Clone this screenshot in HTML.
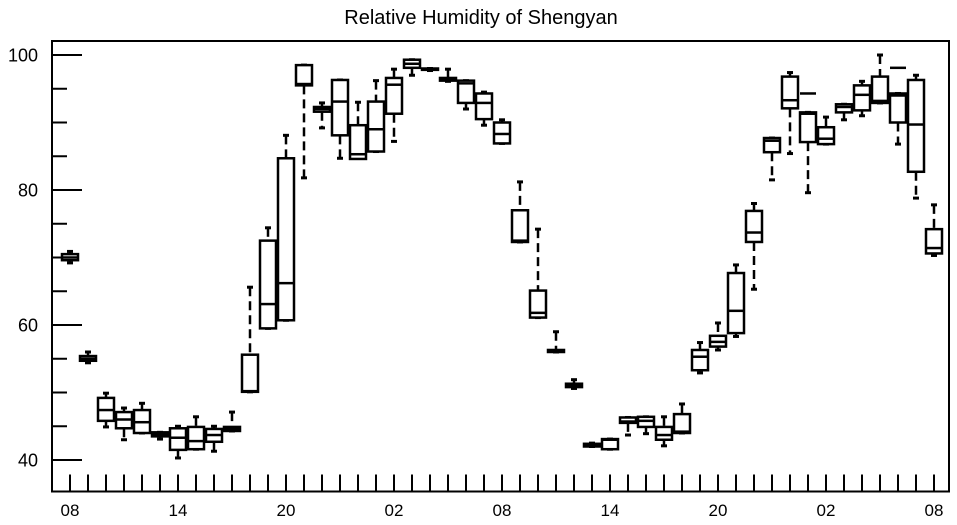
<!DOCTYPE html>
<html><head><meta charset="utf-8"><style>
body{margin:0;background:#fff;}
svg text{font-family:"Liberation Sans",sans-serif;fill:#000;}
</style></head><body>
<svg id="chart" width="957" height="520" xmlns="http://www.w3.org/2000/svg">
<text x="481" y="24" font-size="20" text-anchor="middle">Relative Humidity of Shengyan</text>
<g id="axes"></g>
<g id="boxes"></g>
</svg>
<script>
const hours = [8,9,10,11,12,13,14,15,16,17,18,19,20,21,22,23,0,1,2,3,4,5,6,7,8,9,10,11,12,13,14,15,16,17,18,19,20,21,22,23,0,1,2,3,4,5,6,7,8];
const whiskerLo = [69.2,54.4,44.9,43,44,43.1,40.3,41.6,41.3,44.3,50.1,59.5,60.7,81.8,89.2,84.7,85,85.7,87.2,97,97.7,96.1,92,89.6,86.9,72.3,61.1,56,50.6,42,41.6,43.7,43.9,42.1,44,52.9,56.3,58.3,65.3,81.5,85.4,79.6,86.8,90.4,91,92.9,86.8,78.8,70.3];
const q1 = [69.6,54.7,45.8,44.7,44,43.5,41.5,41.6,42.7,44.3,50.1,59.5,60.7,95.5,91.6,88.1,84.6,85.7,91.3,98.1,97.8,96.2,92.9,90.5,86.9,72.3,61.1,56,50.8,42,41.6,45.5,44.9,43,44,53.3,56.8,58.8,72.3,85.6,92.1,87.1,86.8,91.5,91.8,92.9,90,82.7,70.6];
const median = [70,55,47.4,46,45.6,43.8,43.3,42.8,43.7,44.6,50.2,63.1,66.2,95.7,92,93.1,85.3,89,95.6,98.7,97.9,96.4,95.8,92.9,88.3,72.5,61.8,56.1,51,42.2,43,45.7,45.8,43.7,44.2,55.3,57.5,62.1,73.7,87.3,93.3,91.3,87.6,92.3,94.1,93.2,94,89.7,71.4];
const q3 = [70.5,55.4,49.2,47.1,47.4,44.1,44.7,44.9,44.6,44.9,55.6,72.5,84.7,98.5,92.3,96.3,89.6,93.1,96.6,99.3,98,96.6,96.2,94.3,90,77,65.1,56.3,51.3,42.4,43.1,46.3,46.4,44.9,46.8,56.3,58.4,67.7,76.9,87.7,96.8,91.5,89.3,92.7,95.5,96.8,94.3,96.3,74.2];
const whiskerHi = [70.9,56,49.9,47.7,48.4,44.1,45,46.4,45,47.1,65.6,74.4,88.1,98.5,92.9,96.3,93,96.2,97.9,99.3,98,97.9,96.2,94.5,90.4,81.2,74.2,59,51.9,42.5,43.1,46.3,46.4,46.4,48.3,57.4,60.3,68.9,78,87.7,97.4,91.5,90.8,92.7,96.1,100,94.3,97,77.8];
const extraMark = [null,null,null,null,null,null,null,null,null,null,null,null,null,null,null,null,null,null,null,null,null,null,null,null,null,null,null,null,null,null,null,null,null,null,null,null,null,null,null,null,null,94.3,null,null,null,null,98.1,null,null];
const yTicks = [40,60,80,100];
const xLabelEvery = 6;

const L=52,R=949,T=41,B=491.5;
const yS=v=>55+(100-v)*6.75;
const xS=i=>70+18*i;
const NS='http://www.w3.org/2000/svg';
function mk(tag,attrs,parent){const e=document.createElementNS(NS,tag);for(const k in attrs)e.setAttribute(k,attrs[k]);parent.appendChild(e);return e;}
const ax=document.getElementById('axes');
const frame=mk('rect',{x:L,y:T,width:R-L,height:B-T,fill:'none',stroke:'#000','stroke-width':2},ax);


for(let v=40;v<=100;v+=5){
  const major=yTicks.includes(v);
  const t=mk('line',{x1:L,x2:L+(major?30:15),y1:yS(v),y2:yS(v),stroke:'#000','stroke-width':2},ax);
  
  
}
yTicks.forEach(v=>{
  const t=mk('text',{x:38,y:yS(v)+6.5,'font-size':18,'text-anchor':'end'},ax);
  t.textContent=v;
  
  
});
hours.forEach((h,i)=>{
  const t=mk('line',{x1:xS(i),x2:xS(i),y1:B,y2:B-17,stroke:'#000','stroke-width':2},ax);
  
  
  if(i%xLabelEvery===0){
    const l=mk('text',{x:xS(i),y:516,'font-size':17,'text-anchor':'middle'},ax);
    l.textContent=String(h).padStart(2,'0');
    
    
  }
});
const bx=document.getElementById('boxes');
hours.forEach((h,i)=>{
  const g=mk('g',{stroke:'#000','stroke-width':2.5,fill:'none'},bx);
  
  
  const x=xS(i),w=16;
  const yq1=yS(q1[i]),yq3=yS(q3[i]);
  mk('line',{x1:x,x2:x,y1:yS(whiskerHi[i]),y2:yq3,'stroke-dasharray':'9,5'},g);
  mk('line',{x1:x,x2:x,y1:yq1,y2:yS(whiskerLo[i]),'stroke-dasharray':'9,5'},g);
  mk('line',{x1:x-3,x2:x+3,y1:yS(whiskerHi[i]),y2:yS(whiskerHi[i]),'stroke-width':3},g);
  mk('line',{x1:x-3,x2:x+3,y1:yS(whiskerLo[i]),y2:yS(whiskerLo[i]),'stroke-width':3},g);
  mk('rect',{x:x-w/2,y:yq3,width:w,height:Math.max(1,yq1-yq3),fill:'#fff'},g);
  mk('line',{x1:x-w/2,x2:x+w/2,y1:yS(median[i]),y2:yS(median[i])},g);
  if(extraMark[i]!==null){mk('line',{x1:x-w/2,x2:x+w/2,y1:yS(extraMark[i]),y2:yS(extraMark[i])},g);}
});
</script>
</body></html>
